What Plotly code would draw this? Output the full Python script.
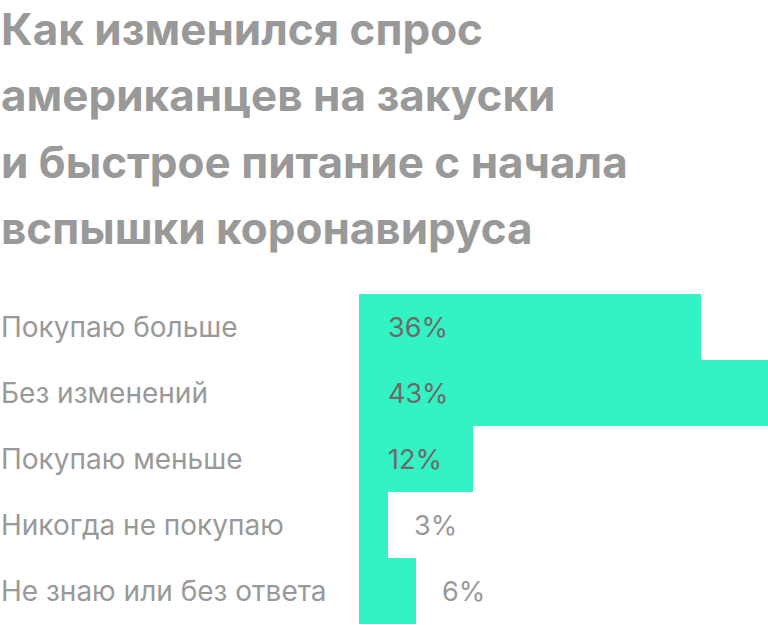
import plotly.graph_objects as go

title_lines = ["Как изменился спрос", "американцев на закуски",
               "и быстрое питание с начала", "вспышки коронавируса"]
categories = ["Покупаю больше", "Без изменений", "Покупаю меньше",
              "Никогда не покупаю", "Не знаю или без ответа"]
values = [36, 43, 12, 3, 6]
value_labels = ["36%", "43%", "12%", "3%", "6%"]

W, H = 768, 625
TOP, BOT = 294, 1
LEFT_PX = 359
plot_h = H - TOP - BOT
FONT = "Inter"

fig = go.Figure(go.Bar(
    x=values, y=categories, orientation="h",
    marker=dict(color="#33f2c4", line=dict(width=0)),
    hoverinfo="skip",
))

ann = []
# title lines
baselines = [46, 112, 179, 245]
for line, bl in zip(title_lines, baselines):
    ann.append(dict(text=line, xref="paper", yref="paper", x=-LEFT_PX / (W - LEFT_PX),
                    xanchor="left", xshift=-1, y=1 + (TOP - bl) / plot_h, yanchor="bottom",
                    yshift=-12, showarrow=False,
                    font=dict(family=FONT, size=44, color="#999999", weight="bold")))
# category labels
for c in categories:
    ann.append(dict(text=c, xref="paper", yref="y", x=-LEFT_PX / (W - LEFT_PX),
                    xanchor="left", xshift=-1, y=c, yanchor="middle", showarrow=False,
                    font=dict(family=FONT, size=28, color="#999999")))
# value labels
for c, v, t in zip(categories, values, value_labels):
    inside = v >= 10
    ann.append(dict(text=t, xref="x", yref="y", x=0 if inside else v,
                    xanchor="left", xshift=27 if inside else 24,
                    y=c, yanchor="middle", showarrow=False,
                    font=dict(family=FONT, size=27,
                              color="#6e6a6a" if inside else "#999999")))

fig.update_layout(
    width=W, height=H,
    margin=dict(l=LEFT_PX, r=0, t=TOP, b=BOT),
    paper_bgcolor="white", plot_bgcolor="white",
    bargap=0, showlegend=False,
    xaxis=dict(range=[0, 43], visible=False, fixedrange=True),
    yaxis=dict(autorange="reversed", visible=False, fixedrange=True),
    annotations=ann,
)

fig.write_html("out.html", config={"displayModeBar": False},
               post_script="document.body.style.margin='0';")
